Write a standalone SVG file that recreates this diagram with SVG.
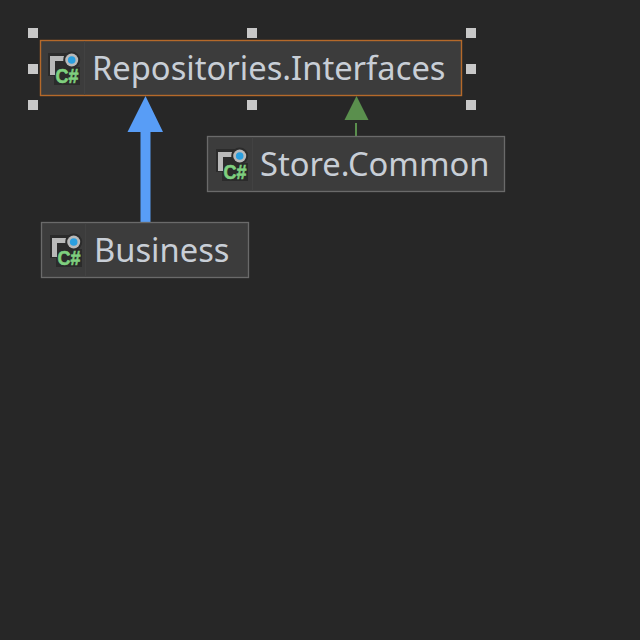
<svg xmlns="http://www.w3.org/2000/svg" width="640" height="640" viewBox="0 0 640 640">
<style>
.box{fill:#3c3c3c;stroke:#6a6a6a;stroke-width:1.300}
.sel{fill:#3c3c3c;stroke:#b5692a;stroke-width:1.400}
.sep{stroke:#424242;stroke-width:1}
.lbl{font-family:"Noto Sans","Open Sans",sans-serif;font-size:32.700px;fill:#c8ced6}
.h{fill:#c8c8c8}
.hash{font-family:"Liberation Sans",sans-serif;font-weight:700;font-size:20px;fill:#7fd07f;stroke:#7fd07f;stroke-width:0.600}
</style>
<defs>
<g id="icon">
<rect x="-1" y="-1" width="23" height="23" fill="#2b2b2b"/>
<rect x="5" y="13" width="26" height="18" fill="#2b2b2b"/>
<path d="M1 21V2H15V7H6V21Z" fill="#b9b9b9"/>
<circle cx="22.700" cy="6" r="8.500" fill="#2b2b2b"/>
<circle cx="22.700" cy="6" r="6.500" fill="#b9b9b9"/>
<circle cx="22.700" cy="6" r="3.800" fill="#2a9fe0"/>
<text class="hash" x="6.500" y="28.500" textLength="23" lengthAdjust="spacingAndGlyphs">C#</text>
</g>
</defs>
<rect width="640" height="640" fill="#272727"/>
<g id="connectors">
<path d="M140.500 222V132H127.500L145.500 96L163 132H150.500V222Z" fill="#589df6"/>
<path d="M355 136V123H357V136Z" fill="#5a8f4d"/>
<path d="M356.500 96L368.500 120H344.500Z" fill="#5a8f4d"/>
</g>
<g id="node-repositories-interfaces">
<rect class="sel" x="40.500" y="40.500" width="421" height="55"/>
<line class="sep" x1="84.500" y1="41" x2="84.500" y2="95"/>
<use href="#icon" x="49" y="54"/>
<text class="lbl" x="92" y="80">Repositories.Interfaces</text>
</g>
<g id="node-store-common">
<rect class="box" x="207.500" y="136.500" width="297" height="55"/>
<line class="sep" x1="252.500" y1="137" x2="252.500" y2="191"/>
<use href="#icon" x="217" y="150"/>
<text class="lbl" x="260" y="176">Store.Common</text>
</g>
<g id="node-business">
<rect class="box" x="41.500" y="222.500" width="207" height="55"/>
<line class="sep" x1="85.500" y1="223" x2="85.500" y2="277"/>
<use href="#icon" x="51" y="236"/>
<text class="lbl" x="94" y="262">Business</text>
</g>
<g id="selection-handles">
<rect class="h" x="28" y="28" width="10" height="10"/>
<rect class="h" x="247" y="28" width="10" height="10"/>
<rect class="h" x="466" y="28" width="10" height="10"/>
<rect class="h" x="28" y="64" width="10" height="10"/>
<rect class="h" x="466" y="64" width="10" height="10"/>
<rect class="h" x="28" y="100" width="10" height="10"/>
<rect class="h" x="247" y="100" width="10" height="10"/>
<rect class="h" x="466" y="100" width="10" height="10"/>
</g>
</svg>
